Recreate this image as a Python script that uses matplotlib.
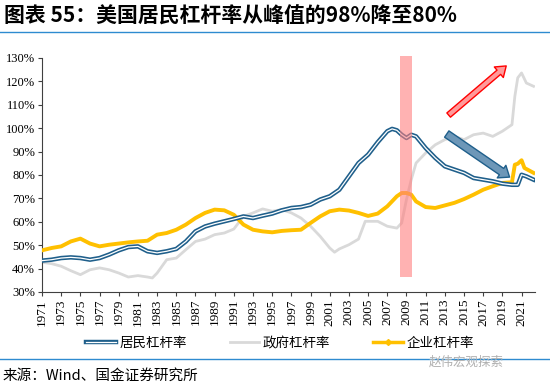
import matplotlib
matplotlib.use('Agg')
import matplotlib.pyplot as plt
import matplotlib.patheffects as pe
from matplotlib.lines import Line2D

plt.rcParams['font.family'] = ['Noto Sans CJK SC', 'DejaVu Sans']

# household leverage (居民)
hh_years = [1971, 1972, 1973, 1974, 1975, 1976, 1977, 1978, 1979, 1980,
            1981, 1982, 1983, 1984, 1985, 1986, 1987, 1988, 1989, 1990,
            1991, 1992, 1993, 1994, 1995, 1996, 1997, 1998, 1999, 2000,
            2001, 2002, 2003, 2004, 2005, 2006, 2007, 2007.5, 2008, 2008.5,
            2009, 2009.5, 2010, 2011, 2012, 2013, 2014, 2015, 2016, 2017,
            2018, 2019, 2020, 2020.6, 2021, 2021.5, 2022.25]
hh_vals = [43.4, 43.8, 44.5, 44.8, 44.5, 43.8, 44.5, 46.0, 47.8, 49.2,
           49.5, 47.4, 46.7, 47.4, 48.4, 51.6, 55.9, 58.0, 59.2, 60.2,
           61.2, 62.3, 61.6, 62.6, 63.5, 64.9, 65.9, 66.3, 67.3, 69.5,
           70.9, 73.7, 79.4, 85.1, 88.7, 94.0, 98.7, 99.7, 99.1, 97.2,
           95.8, 97.2, 96.5, 91.5, 87.3, 83.7, 82.3, 80.9, 78.7, 78.0,
           77.3, 76.3, 75.8, 75.8, 80.1, 79.4, 78.0]

# government leverage (政府)
gov_years = [1971, 1972, 1973, 1974, 1975, 1976, 1977, 1978, 1979, 1980,
             1981, 1982, 1982.5, 1983, 1984, 1985, 1986, 1987, 1988, 1989,
             1990, 1991, 1992, 1993, 1994, 1995, 1996, 1997, 1998, 1999,
             2000, 2001, 2001.5, 2002, 2003, 2004, 2004.7, 2006, 2007, 2008,
             2008.5, 2009, 2009.5, 2010, 2011, 2012, 2013, 2014, 2015, 2016,
             2017, 2018, 2019, 2020, 2020.3, 2020.6, 2021, 2021.5, 2022.25]
gov_vals = [42.7, 42.1, 41.0, 39.1, 37.4, 39.5, 40.3, 39.5, 38.1, 36.4,
            37.0, 36.4, 36.0, 38.1, 43.8, 44.5, 48.1, 51.6, 52.6, 54.5,
            55.2, 56.9, 62.3, 63.8, 65.5, 64.5, 65.2, 63.8, 61.6, 58.1,
            53.8, 48.8, 47.0, 48.4, 50.2, 52.6, 60.2, 60.2, 58.1, 57.3,
            59.5, 69.5, 78.0, 85.1, 89.4, 92.9, 95.1, 96.5, 95.1, 97.2,
            97.9, 96.5, 98.7, 101.5, 113.6, 121.5, 123.6, 119.3, 117.9]

# corporate leverage (企业)
corp_years = [1971, 1972, 1973, 1974, 1975, 1976, 1977, 1978, 1979, 1980,
              1981, 1982, 1983, 1984, 1985, 1986, 1987, 1988, 1989, 1990,
              1991, 1992, 1993, 1994, 1995, 1996, 1997, 1998, 1999, 2000,
              2001, 2002, 2003, 2004, 2005, 2006, 2007, 2008, 2008.5, 2009,
              2009.5, 2010, 2011, 2012, 2013, 2014, 2015, 2016, 2017, 2018,
              2019, 2020, 2020.3, 2020.6, 2021, 2021.3, 2022.25]
corp_vals = [47.8, 48.8, 49.5, 51.6, 52.8, 50.7, 49.5, 50.2, 50.7, 51.2,
             51.6, 51.9, 54.5, 55.2, 56.6, 58.8, 61.6, 63.8, 65.2, 64.9,
             63.0, 58.8, 56.6, 55.9, 55.5, 56.1, 56.4, 56.6, 59.5, 62.3,
             64.5, 65.2, 64.8, 63.8, 62.5, 63.5, 66.6, 70.9, 72.3, 72.3,
             71.6, 68.7, 66.3, 65.9, 67.0, 68.1, 69.7, 71.6, 73.7, 75.2,
             76.6, 76.9, 84.4, 84.8, 86.3, 83.0, 80.9]

x_ticks = list(range(1971, 2022, 2))
y_ticks = list(range(30, 131, 10))

blue = '#1F5F8B'
grey = '#D9D9D9'
gold = '#FFC000'

fig = plt.figure(figsize=(5.5, 3.87), dpi=100)
ax = fig.add_axes([0.0764, 0.2455, 0.8963, 0.6047])

ax.plot(gov_years, gov_vals, color=grey, lw=2, zorder=2)
ax.plot(corp_years, corp_vals, color=gold, lw=2.8, zorder=3)
ax.plot(hh_years, hh_vals, color='white', lw=0.9, zorder=4,
        path_effects=[pe.Stroke(linewidth=3.2, foreground=blue), pe.Normal()])

# 2008 crisis band
ax.axvspan(2008.3, 2009.55, ymin=0.064, ymax=1.01, facecolor='#FF7F7F',
           alpha=0.6, lw=0, zorder=5, clip_on=False)

# arrows
ax.annotate('', xy=(2019.4, 126.6), xytext=(2013.4, 105.6),
            arrowprops=dict(width=4, headwidth=10, headlength=7, shrink=0,
                            facecolor='#FF9A9A', edgecolor='#FF0000', lw=1),
            zorder=6)
ax.annotate('', xy=(2019.75, 79.1), xytext=(2013.2, 97.5),
            arrowprops=dict(width=5.5, headwidth=11, headlength=7, shrink=0,
                            facecolor='#6D97B8', edgecolor='#1F5F8B', lw=1),
            zorder=6)

ax.set_xlim(1971, 2022.4)
ax.set_ylim(30, 130)
ax.set_xticks(x_ticks)
ax.set_xticklabels([str(y) for y in x_ticks], rotation=90,
                   family='Liberation Serif', fontsize=9.5)
ax.set_yticks(y_ticks)
ax.set_yticklabels([f'{v}%' for v in y_ticks], family='Liberation Serif',
                   fontsize=9)
for s in ['top', 'right']:
    ax.spines[s].set_visible(False)
for s in ['left', 'bottom']:
    ax.spines[s].set_color('#404040')
    ax.spines[s].set_linewidth(0.8)
ax.tick_params(axis='both', length=3, width=0.8, color='#404040', pad=2)

# legend
h1 = Line2D([], [], color='white', lw=0.9,
            path_effects=[pe.Stroke(linewidth=3.2, foreground=blue), pe.Normal()])
h2 = Line2D([], [], color=grey, lw=2)
h3 = Line2D([], [], color=gold, lw=2.5, marker='D', markersize=3, markevery=[1])
fig.legend([h1, h2, h3], ['居民杠杆率', '政府杠杆率', '企业杠杆率'],
           loc='center', bbox_to_anchor=(0.509, 1 - 343 / 387), ncol=3,
           frameon=False, fontsize=9.7, handlelength=2.2, columnspacing=3.2,
           handletextpad=0.25)

# title and frame lines
fig.text(0.008, 1 - 16 / 387, '图表 55：美国居民杠杆率从峰值的98%降至80%',
         fontsize=15, fontweight='bold', va='center', ha='left')
fig.add_artist(Line2D([0, 1], [1 - 32 / 387, 1 - 32 / 387], color='#2E8BD0', lw=1))
fig.add_artist(Line2D([0, 1], [1 - 359 / 387, 1 - 359 / 387], color='#2E8BD0', lw=1))
fig.text(0.78, 1 - 362 / 387, '赵伟宏观探索', fontsize=9, color='#B0B0B0',
         va='center', ha='left')
fig.text(0.005, 1 - 376 / 387, '来源：Wind、国金证券研究所', fontsize=10.5,
         va='center', ha='left')

fig.savefig('out.png', dpi=100)
